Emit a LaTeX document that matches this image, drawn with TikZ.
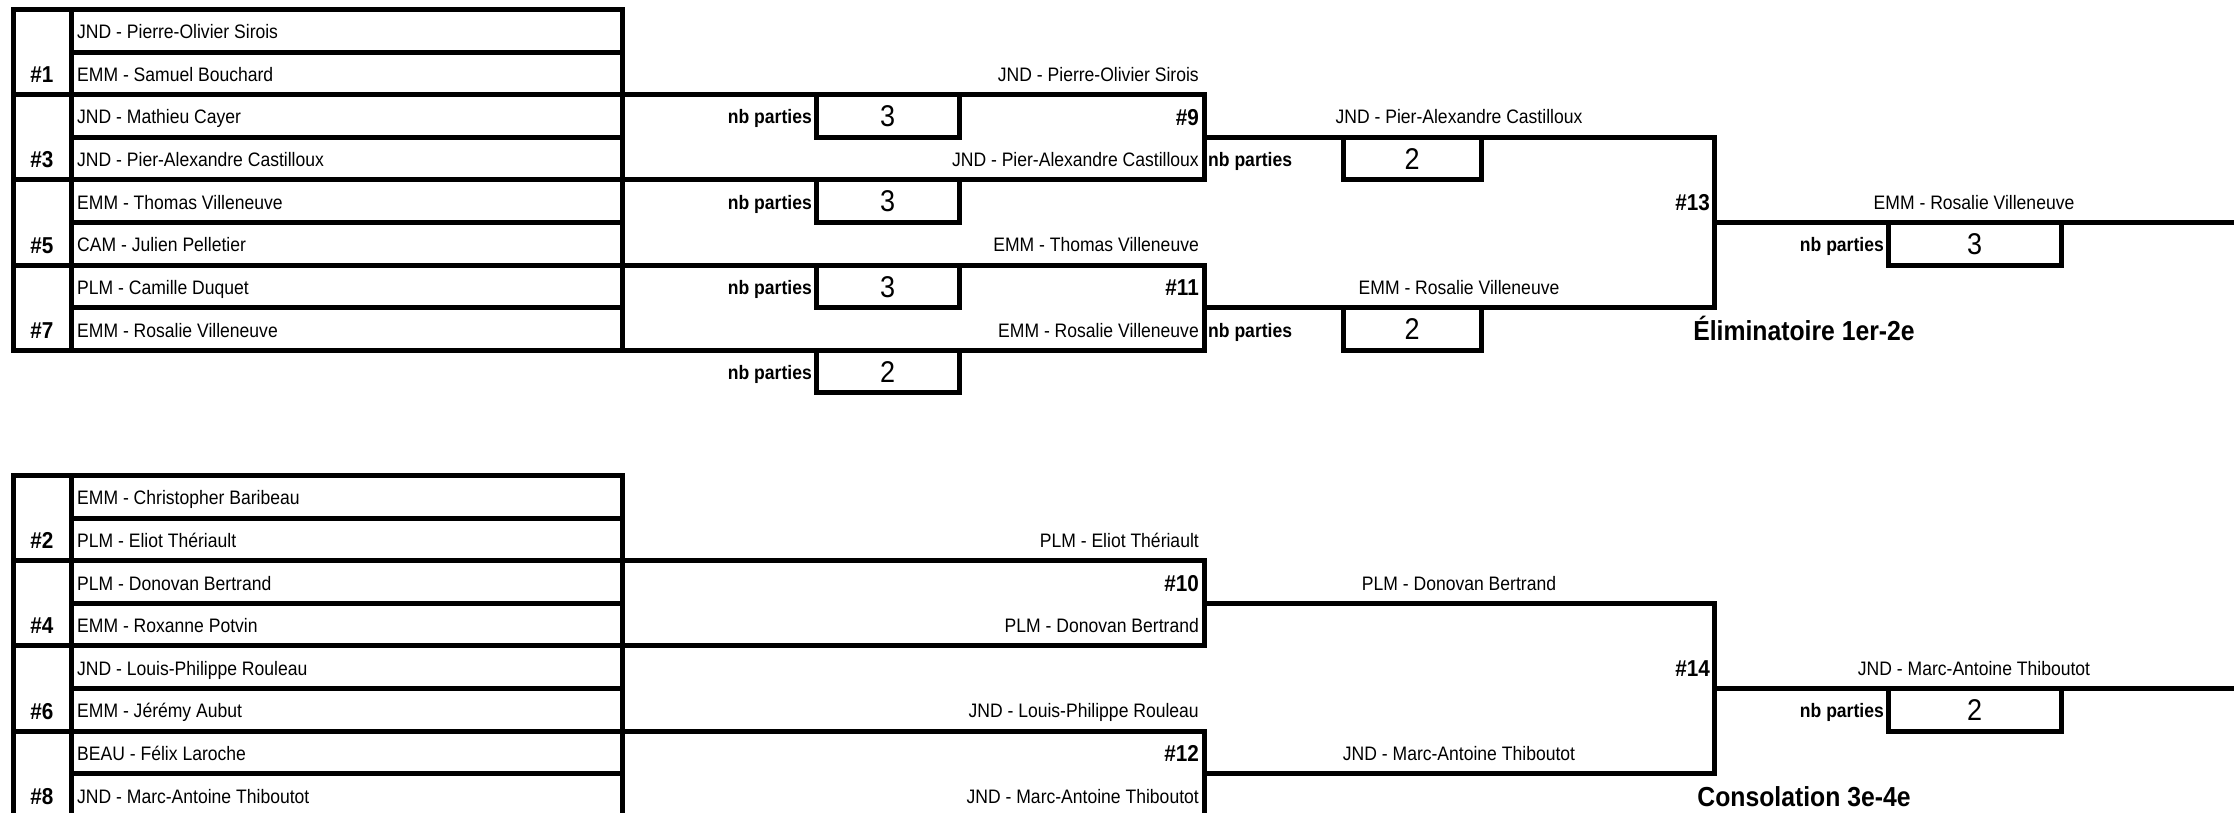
\documentclass[tikz,border=0pt]{standalone}
\usepackage{fontspec}
\setmainfont{Liberation Sans}[FakeStretch=0.9]
\begin{document}
\begin{tikzpicture}[x=1pt,y=-1pt,
  ln/.style={line width=5pt, line cap=rect, line join=miter},
  nm/.style={anchor=west, inner sep=0pt, font=\fontsize{19.5}{22}\selectfont, text height=14pt, text depth=0pt},
  rt/.style={nm, anchor=east},
  ct/.style={nm, anchor=center},
  sd/.style={inner sep=0pt, font=\bfseries\fontsize{23}{26}\selectfont, text height=16.5pt, text depth=0pt},
  nb/.style={inner sep=0pt, anchor=east, font=\bfseries\fontsize{19.5}{22}\selectfont, text height=14pt, text depth=0pt},
  dg/.style={inner sep=0pt, font=\fontsize{30}{32}\selectfont, text height=21.5pt, text depth=0pt},
  ttl/.style={inner sep=0pt, font=\bfseries\fontsize{27.5}{30}\selectfont, text height=19.7pt, text depth=0pt}]
\useasboundingbox (0,0) rectangle (2234,813);
\clip (0,0) rectangle (2234,813);
\fill[white] (0,0) rectangle (2234,813);

% ---------- top block (Eliminatoire) ----------
\draw[ln] (13,9.5) rectangle (622,350.3);
\draw[ln] (71,9.5) -- (71,350.3);
\foreach \k in {1,3,5,7} \draw[ln] (71,{9.5+42.6*\k}) -- (622,{9.5+42.6*\k});
\foreach \k in {2,4,6} \draw[ln] (13,{9.5+42.6*\k}) -- (622,{9.5+42.6*\k});
\draw[ln] (622,94.7) -- (1204,94.7) -- (1204,179.9) -- (622,179.9);
\draw[ln] (622,265.1) -- (1204,265.1) -- (1204,350.3) -- (622,350.3);
\draw[ln] (1204,137.3) -- (1714,137.3) -- (1714,307.7) -- (1204,307.7);
\draw[ln] (1714,222.5) -- (2240,222.5);
% nb parties boxes
\draw[ln] (816,94.7) rectangle (959,137.3);
\draw[ln] (816,179.9) rectangle (959,222.5);
\draw[ln] (816,265.1) rectangle (959,307.7);
\draw[ln] (816,350.3) rectangle (959,392.9);
\draw[ln] (1343,137.3) rectangle (1481,179.9);
\draw[ln] (1343,307.7) rectangle (1481,350.3);
\draw[ln] (1888,222.5) rectangle (2061,265.1);

\foreach \t [count=\i] in {JND - Pierre-Olivier Sirois, EMM - Samuel Bouchard, JND - Mathieu Cayer, JND - Pier-Alexandre Castilloux, EMM - Thomas Villeneuve, CAM - Julien Pelletier, PLM - Camille Duquet, EMM - Rosalie Villeneuve}
  \node[nm] (ta\i) at (77,{9.5+42.6*(\i-0.5)+1}) {\t};
\foreach \s [count=\i] in {1,3,5,7}
  \node[sd] (sa\i) at (42,{9.5+42.6*(2*\i-0.5)+1}) {\#\s};

\node[rt] (wa1) at (1199,74.4) {JND - Pierre-Olivier Sirois};
\node[sd,anchor=east] (m9) at (1199,117) {\#9};
\node[rt] (wa3) at (1199,159.6) {JND - Pier-Alexandre Castilloux};
\node[rt] (wa5) at (1199,244.8) {EMM - Thomas Villeneuve};
\node[sd,anchor=east] (m11) at (1199,287.4) {\#11};
\node[rt] (wa7) at (1199,330) {EMM - Rosalie Villeneuve};

\node[ct] (wb9) at (1459,117) {JND - Pier-Alexandre Castilloux};
\node[ct] (wb11) at (1459,287.4) {EMM - Rosalie Villeneuve};
\node[sd,anchor=east] (m13) at (1710,202.2) {\#13};
\node[ct] (wc13) at (1974,202.2) {EMM - Rosalie Villeneuve};

\node[nb] (pa1) at (812,117) {nb parties};
\node[nb] (pa2) at (812,202.2) {nb parties};
\node[nb] (pa3) at (812,287.4) {nb parties};
\node[nb] (pa4) at (812,372.6) {nb parties};
\node[dg] (ga1) at (887.5,116) {3};
\node[dg] (ga2) at (887.5,201.2) {3};
\node[dg] (ga3) at (887.5,286.4) {3};
\node[dg] (ga4) at (887.5,371.6) {2};
\node[nb,anchor=west] (pb1) at (1208,159.6) {nb parties};
\node[nb,anchor=west] (pb2) at (1208,330) {nb parties};
\node[dg] (gb1) at (1412,158.6) {2};
\node[dg] (gb2) at (1412,329) {2};
\node[nb] (pc1) at (1884,244.8) {nb parties};
\node[dg] (gc1) at (1974.5,243.8) {3};
\node[ttl] (t1) at (1804,331) {Éliminatoire 1er-2e};

% ---------- bottom block (Consolation) ----------
\draw[ln] (13,475.5) rectangle (622,816.3);
\draw[ln] (71,475.5) -- (71,816.3);
\foreach \k in {1,3,5,7} \draw[ln] (71,{475.5+42.6*\k}) -- (622,{475.5+42.6*\k});
\foreach \k in {2,4,6} \draw[ln] (13,{475.5+42.6*\k}) -- (622,{475.5+42.6*\k});
\draw[ln] (622,560.7) -- (1204,560.7) -- (1204,645.9) -- (622,645.9);
\draw[ln] (622,731.1) -- (1204,731.1) -- (1204,816.3) -- (622,816.3);
\draw[ln] (1204,603.3) -- (1714,603.3) -- (1714,773.7) -- (1204,773.7);
\draw[ln] (1714,688.5) -- (2240,688.5);
\draw[ln] (1888,688.5) rectangle (2061,731.1);

\foreach \t [count=\i] in {EMM - Christopher Baribeau, PLM - Eliot Thériault, PLM - Donovan Bertrand, EMM - Roxanne Potvin, JND - Louis-Philippe Rouleau, EMM - Jérémy Aubut, BEAU - Félix Laroche, JND - Marc-Antoine Thiboutot}
  \node[nm] (tb\i) at (77,{475.5+42.6*(\i-0.5)+1}) {\t};
\foreach \s [count=\i] in {2,4,6,8}
  \node[sd] (sb\i) at (42,{475.5+42.6*(2*\i-0.5)+1}) {\#\s};

\node[rt] (wd2) at (1199,540.4) {PLM - Eliot Thériault};
\node[sd,anchor=east] (m10) at (1199,583) {\#10};
\node[rt] (wd4) at (1199,625.6) {PLM - Donovan Bertrand};
\node[rt] (wd6) at (1199,710.8) {JND - Louis-Philippe Rouleau};
\node[sd,anchor=east] (m12) at (1199,753.4) {\#12};
\node[rt] (wd8) at (1199,796) {JND - Marc-Antoine Thiboutot};

\node[ct] (we10) at (1459,583) {PLM - Donovan Bertrand};
\node[ct] (we12) at (1459,753.4) {JND - Marc-Antoine Thiboutot};
\node[sd,anchor=east] (m14) at (1710,668.2) {\#14};
\node[ct] (wf14) at (1974,668.2) {JND - Marc-Antoine Thiboutot};
\node[nb] (pf1) at (1884,710.8) {nb parties};
\node[dg] (gf1) at (1974.5,709.8) {2};
\node[ttl] (t2) at (1804,797) {Consolation 3e-4e};
\end{tikzpicture}
\end{document}
